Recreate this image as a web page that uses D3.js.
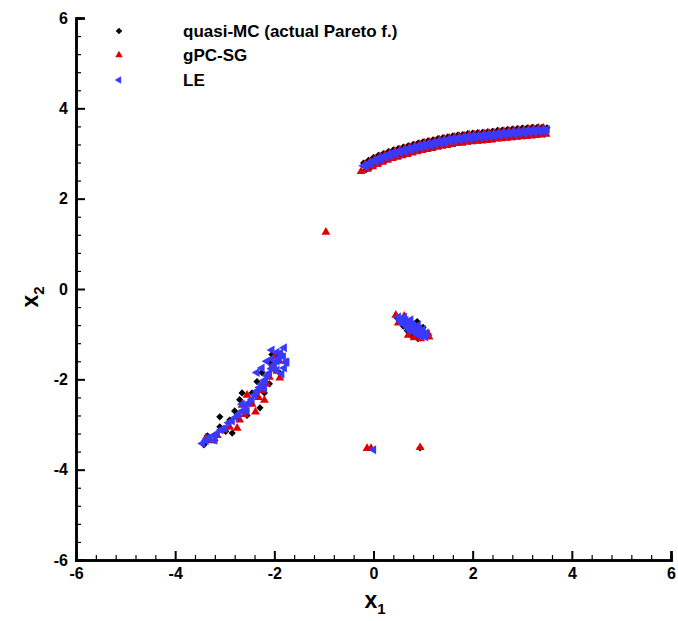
<!DOCTYPE html>
<html>
<head>
<meta charset="utf-8">
<script src="https://cdn.jsdelivr.net/npm/d3@7"></script>
<style>
  body { margin: 0; background: #fff; }
  svg { font-family: "Liberation Sans", Arial, sans-serif; font-weight: bold; }
</style>
</head>
<body>
<svg id="chart" width="678" height="621"></svg>
<script>
// quasi-MC points (actual Pareto front)
var qmcPts = [
  [-0.2,2.79],[-0.1,2.85],[0,2.91],[0.1,2.96],[0.2,3.00],[0.3,3.04],[0.4,3.08],[0.5,3.11],[0.6,3.14],[0.7,3.17],
  [0.8,3.20],[0.9,3.23],[1.0,3.26],[1.1,3.28],[1.2,3.30],[1.3,3.33],[1.4,3.35],[1.5,3.37],[1.6,3.39],[1.7,3.41],
  [1.8,3.42],[1.9,3.44],[2.0,3.45],[2.1,3.46],[2.2,3.47],[2.3,3.48],[2.4,3.49],[2.5,3.51],[2.6,3.52],[2.7,3.53],
  [2.8,3.54],[2.9,3.55],[3.0,3.56],[3.1,3.57],[3.2,3.58],[3.3,3.58],[3.4,3.58],[3.5,3.57],
  [-0.15,2.64],[-0.05,2.70],[0.05,2.76],[0.15,2.81],[0.25,2.85],[0.35,2.89],[0.45,2.93],[0.55,2.96],[0.65,2.99],
  [0.75,3.02],[0.85,3.05],[0.95,3.08],[1.05,3.10],[1.15,3.12],[1.25,3.15],[1.35,3.17],[1.45,3.19],[1.55,3.21],
  [1.65,3.23],[1.75,3.24],[1.85,3.26],[1.95,3.27],[2.05,3.28],[2.15,3.29],[2.25,3.30],[2.35,3.31],[2.45,3.33],
  [2.55,3.34],[2.65,3.35],[2.75,3.36],[2.85,3.37],[2.95,3.38],[3.05,3.39],[3.15,3.40],[3.25,3.41],[3.35,3.42],[3.45,3.43],
  [-3.42,-3.45],[-3.35,-3.25],[-3.2,-3.35],[-3.1,-3.05],[-2.98,-3.15],[-2.85,-3.19],[-2.9,-2.9],[-3.1,-2.83],
  [-2.8,-2.7],[-2.65,-2.3],[-2.7,-2.45],[-2.55,-2.8],[-2.45,-2.3],[-2.29,-2.63],[-2.35,-2.05],[-2.2,-2.3],
  [-2.1,-2.1],[-2.25,-1.85],[-2.09,-1.64],[-1.89,-1.86],[-1.95,-1.5],[-2.05,-1.45],
  [0.48,-0.64],[0.6,-0.82],[0.68,-0.92],[0.78,-1.05],[0.9,-1.1],[1.0,-0.85],[0.88,-0.72],[0.95,-1.08],
  [0.94,-3.52]
];

// gPC-SG points
var sgPts = [
  [-0.17,2.76],[-0.07,2.82],[0.03,2.88],[0.13,2.93],[0.23,2.97],[0.33,3.01],[0.43,3.05],[0.53,3.08],[0.63,3.11],
  [0.73,3.14],[0.83,3.17],[0.93,3.20],[1.03,3.23],[1.13,3.25],[1.23,3.27],[1.33,3.30],[1.43,3.32],[1.53,3.34],
  [1.63,3.36],[1.73,3.38],[1.83,3.39],[1.93,3.41],[2.03,3.42],[2.13,3.43],[2.23,3.44],[2.33,3.45],[2.43,3.46],
  [2.53,3.48],[2.63,3.49],[2.73,3.50],[2.83,3.51],[2.93,3.52],[3.03,3.53],[3.13,3.54],[3.23,3.55],[3.33,3.56],[3.43,3.56],
  [-0.25,2.60],[-0.12,2.65],[-0.02,2.71],[0.08,2.76],[0.18,2.81],[0.28,2.85],[0.38,2.89],[0.48,2.92],[0.58,2.95],
  [0.68,2.98],[0.78,3.01],[0.88,3.04],[0.98,3.07],[1.08,3.09],[1.18,3.11],[1.28,3.14],[1.38,3.16],[1.48,3.18],
  [1.58,3.20],[1.68,3.22],[1.78,3.23],[1.88,3.25],[1.98,3.26],[2.08,3.27],[2.18,3.28],[2.28,3.29],[2.38,3.30],
  [2.48,3.32],[2.58,3.33],[2.68,3.34],[2.78,3.35],[2.88,3.36],[2.98,3.37],[3.08,3.38],[3.18,3.39],[3.28,3.40],
  [3.38,3.41],[3.48,3.43],
  [-3.38,-3.3],[-3.3,-3.36],[-3.15,-3.24],[-3.02,-3.12],[-2.9,-3.06],[-2.75,-3.08],[-2.7,-2.9],[-2.6,-2.78],
  [-2.65,-2.57],[-2.55,-2.35],[-2.45,-2.55],[-2.38,-2.72],[-2.32,-2.4],[-2.2,-2.46],[-2.25,-2.25],[-2.15,-2.1],
  [-2.1,-1.95],[-2.05,-1.73],[-1.95,-1.82],[-1.89,-1.97],[-1.9,-1.6],[-2.0,-1.5],[-1.85,-1.45],
  [0.45,-0.58],[0.62,-0.6],[0.7,-1.02],[0.82,-1.08],[1.1,-0.98],[1.12,-1.06],[0.5,-0.75],[0.95,-1.1],
  [-0.96,1.26],[-0.13,-3.53],[-0.05,-3.53],[0.94,-3.51]
];

// LE points
var lePts = [
  [-0.2,2.73],[-0.1,2.79],[0,2.85],[0.1,2.90],[0.2,2.94],[0.3,2.98],[0.4,3.02],[0.5,3.05],[0.6,3.08],[0.7,3.11],
  [0.8,3.14],[0.9,3.17],[1.0,3.20],[1.1,3.22],[1.2,3.24],[1.3,3.27],[1.4,3.29],[1.5,3.31],[1.6,3.33],[1.7,3.35],
  [1.8,3.36],[1.9,3.38],[2.0,3.39],[2.1,3.40],[2.2,3.41],[2.3,3.42],[2.4,3.43],[2.5,3.45],[2.6,3.46],[2.7,3.47],
  [2.8,3.48],[2.9,3.49],[3.0,3.50],[3.1,3.51],[3.2,3.52],[3.3,3.53],[3.4,3.53],[3.5,3.53],
  [-0.15,2.70],[-0.05,2.76],[0.05,2.82],[0.15,2.86],[0.25,2.90],[0.35,2.94],[0.45,2.98],[0.55,3.01],[0.65,3.04],
  [0.75,3.07],[0.85,3.10],[0.95,3.13],[1.05,3.15],[1.15,3.17],[1.25,3.20],[1.35,3.22],[1.45,3.24],[1.55,3.26],
  [1.65,3.28],[1.75,3.30],[1.85,3.31],[1.95,3.33],[2.05,3.34],[2.15,3.35],[2.25,3.36],[2.35,3.37],[2.45,3.38],
  [2.55,3.40],[2.65,3.41],[2.75,3.42],[2.85,3.43],[2.95,3.44],[3.05,3.45],[3.15,3.46],[3.25,3.47],[3.35,3.48],[3.45,3.48],
  [-3.45,-3.42],[-3.38,-3.36],[-3.3,-3.32],[-3.22,-3.24],[-3.15,-3.2],[-3.08,-3.12],[-3.0,-3.08],[-2.92,-2.96],
  [-2.85,-2.92],[-2.78,-2.84],[-2.72,-2.78],[-2.65,-2.7],[-2.58,-2.6],[-2.52,-2.52],[-2.45,-2.44],[-2.4,-2.34],
  [-2.35,-2.26],[-2.3,-2.18],[-2.25,-2.1],[-2.2,-2.02],[-2.15,-1.92],[-2.1,-1.86],[-2.05,-1.76],[-2.0,-1.68],
  [-1.95,-1.6],[-1.9,-1.52],[-1.88,-1.42],[-1.82,-1.5],[-1.78,-1.62],[-1.8,-1.75],[-1.95,-1.8],[-1.85,-1.88],
  [-2.05,-1.55],[-1.95,-1.4],[-2.2,-2.2],[-2.55,-2.7],[-2.65,-2.55],[-3.2,-3.35],[-3.35,-3.3],
  [-2.35,-1.85],[-2.25,-1.75],[-2.15,-1.6],[-2.05,-1.35],[-1.75,-1.62],[-1.8,-1.3],
  [0.5,-0.62],[0.58,-0.66],[0.65,-0.7],[0.72,-0.76],[0.8,-0.82],[0.87,-0.88],[0.95,-0.94],[1.02,-1.0],
  [0.6,-0.78],[0.7,-0.86],[0.8,-0.95],[0.9,-1.02],[1.05,-1.06],[0.55,-0.72],[0.75,-0.68],[0.9,-0.8],[1.0,-0.9],
  [0.62,-0.62],[0.68,-0.8],[0.78,-0.78],[0.85,-0.95],[0.97,-1.05],[1.08,-1.0],[0.53,-0.68],[0.73,-0.92],[0.92,-0.88],
  [0.0,-3.56]
];

var majorTicks = [-6, -4, -2, 0, 2, 4, 6];
var minorTicks = [-5.6,-5.2,-4.8,-4.4,-3.6,-3.2,-2.8,-2.4,-1.6,-1.2,-0.8,-0.4,0.4,0.8,1.2,1.6,2.4,2.8,3.2,3.6,4.4,4.8,5.2,5.6];
var legendLabels = ["quasi-MC (actual Pareto f.)", "gPC-SG", "LE"];

var svg = d3.select("#chart");

var x = d3.scaleLinear().domain([-6, 6]).range([76, 671]);
var y = d3.scaleLinear().domain([-6, 6]).range([560, 18]);

var diamond = d3.symbol().type(d3.symbolSquare).size(26);
var redTri = d3.symbol().type(d3.symbolTriangle).size(34);
var blueTri = d3.symbol().type(d3.symbolTriangle).size(36);

var series = [
  {pts: qmcPts, color: "#000000", path: diamond(), rot: 45},
  {pts: sgPts, color: "#e00000", path: redTri(), rot: 0},
  {pts: lePts, color: "#3a3aff", path: blueTri(), rot: -90}
];

// markers
series.forEach(function(s) {
  svg.append("g").selectAll("path")
    .data(s.pts)
    .enter()
    .append("path")
    .attr("d", s.path)
    .attr("transform", function(d) {
      return "translate(" + x(d[0]) + "," + y(d[1]) + ") rotate(" + s.rot + ")";
    })
    .attr("fill", s.color);
});

// axes (ticks point inward)
var fmt = function(d) { return String(d); };
var xMinor = d3.axisBottom(x).tickValues(minorTicks).tickSize(-5).tickFormat("");
var xMajor = d3.axisBottom(x).tickValues(majorTicks).tickSize(-9).tickPadding(8).tickFormat(fmt);
var yMinor = d3.axisLeft(y).tickValues(minorTicks).tickSize(-5).tickFormat("");
var yMajor = d3.axisLeft(y).tickValues(majorTicks).tickSize(-9).tickPadding(8).tickFormat(fmt);

function styleAxis(g, w) {
  g.select(".domain").attr("stroke-width", 2.5).attr("stroke", "#000");
  g.selectAll(".tick line").attr("stroke-width", w).attr("stroke", "#000");
  g.selectAll(".tick text")
    .attr("font-size", 16)
    .attr("font-weight", "bold")
    .attr("font-family", "Liberation Sans, Arial, sans-serif")
    .attr("fill", "#000");
}

svg.append("g").attr("transform", "translate(0,560)").call(xMinor).call(styleAxis, 1.2);
svg.append("g").attr("transform", "translate(0,560)").call(xMajor).call(styleAxis, 2);
svg.append("g").attr("transform", "translate(76,0)").call(yMinor).call(styleAxis, 1.2);
svg.append("g").attr("transform", "translate(76,0)").call(yMajor).call(styleAxis, 2);

// axis titles
var xt = svg.append("text")
  .attr("x", 375).attr("y", 608)
  .attr("text-anchor", "middle")
  .attr("font-size", 23);
xt.append("tspan").text("x");
xt.append("tspan").attr("dy", 6).attr("font-size", 15).text("1");

var yt = svg.append("text")
  .attr("transform", "translate(38,297) rotate(-90)")
  .attr("text-anchor", "middle")
  .attr("font-size", 23);
yt.append("tspan").text("x");
yt.append("tspan").attr("dy", 6).attr("font-size", 15).text("2");

// legend (smaller markers, as in the original)
var legendY = [31, 55, 80];
var legendSym = [
  d3.symbol().type(d3.symbolSquare).size(22)(),
  d3.symbol().type(d3.symbolTriangle).size(24)(),
  d3.symbol().type(d3.symbolTriangle).size(24)()
];
var legend = svg.append("g");
series.forEach(function(s, i) {
  legend.append("path")
    .attr("d", legendSym[i])
    .attr("transform", "translate(119," + legendY[i] + ") rotate(" + s.rot + ")")
    .attr("fill", s.color);
  legend.append("text")
    .attr("x", 183)
    .attr("y", legendY[i] + 6)
    .attr("font-size", 17)
    .text(legendLabels[i]);
});
</script>
</body>
</html>
